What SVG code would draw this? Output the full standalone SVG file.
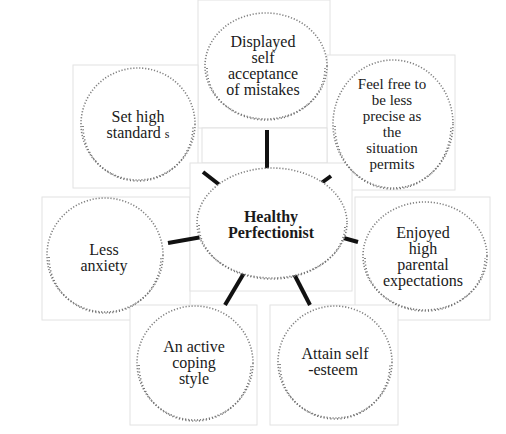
<svg xmlns="http://www.w3.org/2000/svg" width="506" height="434" viewBox="0 0 506 434">
<style>
.box{fill:#fff;stroke:#e2e2e2;stroke-width:1}
.c{fill:#fff;stroke:#808080;stroke-width:1.6;stroke-dasharray:1.2 1.8}
.c2{fill:none;stroke:#6a6a6a;stroke-width:1.6;stroke-dasharray:1 2.4}
.t{font-family:"Liberation Serif","Times New Roman",serif;font-size:16px;fill:#1a1a1a;text-anchor:middle}
.s{font-size:15px}
.b{font-weight:bold}
.con line{stroke:#111;stroke-width:4;stroke-linecap:butt}
</style>
<rect width="506" height="434" fill="#fff"/>
<g id="boxes">
<rect class="box" x="198" y="0" width="132" height="128"/>
<rect class="box" x="327" y="55" width="128" height="135"/>
<rect class="box" x="73" y="65" width="125" height="123"/>
<rect class="box" x="42" y="197" width="148" height="123"/>
<rect class="box" x="355" y="197" width="135" height="123"/>
<rect class="box" x="202" y="128" width="125" height="35"/>
<rect class="box" x="190" y="163" width="162" height="128"/>
<rect class="box" x="130" y="305" width="127" height="120"/>
<rect class="box" x="270" y="305" width="128" height="120"/>
</g>
<g id="connectors" class="con">
<line x1="267" y1="130" x2="267" y2="170"/>
<line x1="203" y1="172" x2="221" y2="186"/>
<line x1="320" y1="184" x2="331" y2="176"/>
<line x1="168" y1="243" x2="202" y2="237"/>
<line x1="340" y1="237" x2="358" y2="242"/>
<line x1="244" y1="273" x2="225" y2="305"/>
<line x1="293" y1="272" x2="310" y2="305"/>
</g>
<g id="n-displayed">
<ellipse class="c" cx="266" cy="66" rx="61" ry="53"/>
<path class="c2" d="M207,68 A59,52 0 0 0 325,68"/>
<text class="t"><tspan x="263" y="47">Displayed</tspan><tspan x="263" y="63">self</tspan><tspan x="263" y="79">acceptance</tspan><tspan x="263" y="95">of mistakes</tspan></text>
</g>
<g id="n-feelfree">
<ellipse class="c" cx="393" cy="124" rx="60" ry="64"/>
<path class="c2" d="M335,126 A58,63 0 0 0 451,126"/>
<text class="t s"><tspan x="392" y="89">Feel free to</tspan><tspan x="392" y="105">be less</tspan><tspan x="392" y="121">precise as</tspan><tspan x="392" y="137">the</tspan><tspan x="392" y="153">situation</tspan><tspan x="392" y="169">permits</tspan></text>
</g>
<g id="n-sethigh">
<ellipse class="c" cx="138" cy="124" rx="57" ry="56"/>
<path class="c2" d="M83,126 A55,55 0 0 0 193,126"/>
<text class="t"><tspan x="138" y="122">Set high</tspan><tspan x="138" y="138">standard <tspan font-size="12">s</tspan></tspan></text>
</g>
<g id="n-center">
<ellipse class="c" cx="272" cy="223" rx="75" ry="55"/>
<path class="c2" d="M199,225 A73,54 0 0 0 345,225"/>
<text class="t b"><tspan x="271" y="222">Healthy</tspan><tspan x="271" y="238">Perfectionist</tspan></text>
</g>
<g id="n-lessanxiety">
<ellipse class="c" cx="105" cy="255" rx="58" ry="57"/>
<path class="c2" d="M49,257 A56,56 0 0 0 161,257"/>
<text class="t"><tspan x="104" y="255">Less</tspan><tspan x="104" y="271">anxiety</tspan></text>
</g>
<g id="n-enjoyed">
<ellipse class="c" cx="425" cy="256" rx="62" ry="54"/>
<path class="c2" d="M365,258 A60,53 0 0 0 485,258"/>
<text class="t"><tspan x="423" y="238">Enjoyed</tspan><tspan x="423" y="254">high</tspan><tspan x="423" y="270">parental</tspan><tspan x="423" y="286">expectations</tspan></text>
</g>
<g id="n-active">
<ellipse class="c" cx="195" cy="363" rx="58" ry="57"/>
<path class="c2" d="M139,365 A56,56 0 0 0 251,365"/>
<text class="t"><tspan x="194" y="352">An active</tspan><tspan x="194" y="368">coping</tspan><tspan x="194" y="384">style</tspan></text>
</g>
<g id="n-attain">
<ellipse class="c" cx="335" cy="362" rx="57" ry="56"/>
<path class="c2" d="M280,364 A55,55 0 0 0 390,364"/>
<text class="t"><tspan x="335" y="359">Attain self</tspan><tspan x="333" y="375">-esteem</tspan></text>
</g>
</svg>
